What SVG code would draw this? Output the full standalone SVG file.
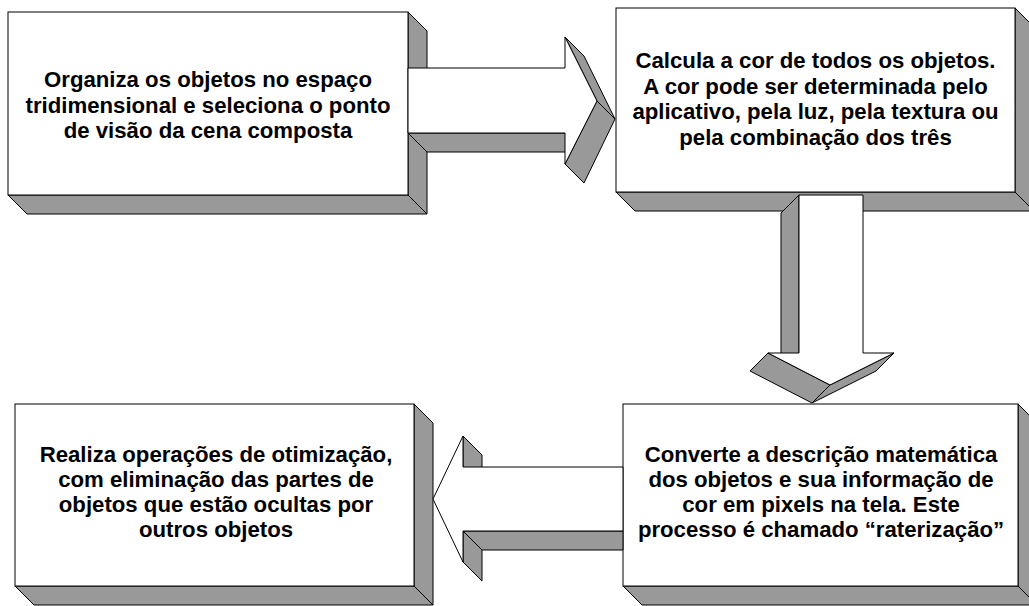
<svg xmlns="http://www.w3.org/2000/svg" width="1029" height="606" viewBox="0 0 1029 606">
<style>
.front{fill:#fff;stroke:#000;stroke-width:1}
.side{fill:#999;stroke:#000;stroke-width:1;stroke-linejoin:round}
.arrowfront{fill:#fff;stroke:#000;stroke-width:1;stroke-linejoin:miter}
text{font-family:"Liberation Sans",Arial,sans-serif;font-weight:bold;font-size:22.2px;fill:#000;text-anchor:middle}
</style>
<rect width="1029" height="606" fill="#fff"/>
<g id="node1">
<polygon class="side" points="408,12 427,31 427,214 408,195"/>
<polygon class="side" points="8,195 408,195 427,214 27,214"/>
<rect class="front" x="8" y="12" width="400" height="183"/>
<text x="208" y="87">Organiza os objetos no espaço</text>
<text x="208" y="112.5">tridimensional e seleciona o ponto</text>
<text x="208" y="138">de visão da cena composta</text>
</g>
<g id="node2">
<polygon class="side" points="1015,8 1034,27 1034,211 1015,192"/>
<polygon class="side" points="616,192 1015,192 1034,211 635,211"/>
<rect class="front" x="616" y="8" width="399" height="184"/>
<text x="815.5" y="68">Calcula a cor de todos os objetos.</text>
<text x="815.5" y="93.5">A cor pode ser determinada pelo</text>
<text x="815.5" y="119">aplicativo, pela luz, pela textura ou</text>
<text x="815.5" y="144.5">pela combinação dos três</text>
</g>
<g id="node3">
<polygon class="side" points="414,404 433,423 433,605 414,586"/>
<polygon class="side" points="15,586 414,586 433,605 34,605"/>
<rect class="front" x="15" y="404" width="399" height="182"/>
<text x="216" y="462">Realiza operações de otimização,</text>
<text x="216" y="487">com eliminação das partes de</text>
<text x="216" y="512">objetos que estão ocultas por</text>
<text x="216" y="537">outros objetos</text>
</g>
<g id="node4">
<polygon class="side" points="1018,404 1037,423 1037,605 1018,586"/>
<polygon class="side" points="623,586 1018,586 1037,605 642,605"/>
<rect class="front" x="623" y="404" width="395" height="182"/>
<text x="821" y="462">Converte a descrição matemática</text>
<text x="821" y="487">dos objetos e sua informação de</text>
<text x="821" y="512">cor em pixels na tela. Este</text>
<text x="821" y="537">processo é chamado “raterização”</text>
</g>
<g id="connectors">
<g id="arrow1">
<polygon class="side" points="408,133 565,133 584,152 427,152"/>
<polygon class="side" points="565,37 584,56 615,119 597,101"/>
<polygon class="side" points="597,101 615,119 584,183 565,164"/>
<polygon class="arrowfront" points="408,68 565,68 565,37 597,101 565,164 565,133 408,133"/>
</g>
<g id="arrow2">
<polygon class="side" points="799,195 781,213 781,371 799,353"/>
<polygon class="side" points="768,353 830,385 812,403 750,371"/>
<polygon class="side" points="830,385 894,353 876,371 812,403"/>
<polygon class="arrowfront" points="799,195 863,195 863,353 894,353 830,385 768,353 799,353"/>
</g>
<g id="arrow3">
<polygon class="side" points="463,436 482,455 482,486 463,467"/>
<polygon class="side" points="463,531 623,531 623,550 482,550"/>
<polygon class="side" points="463,531 482,550 482,581 463,562"/>
<polygon class="arrowfront" points="623,467 463,467 463,436 433,499 463,562 463,531 623,531"/>
</g>
</g>
</svg>
